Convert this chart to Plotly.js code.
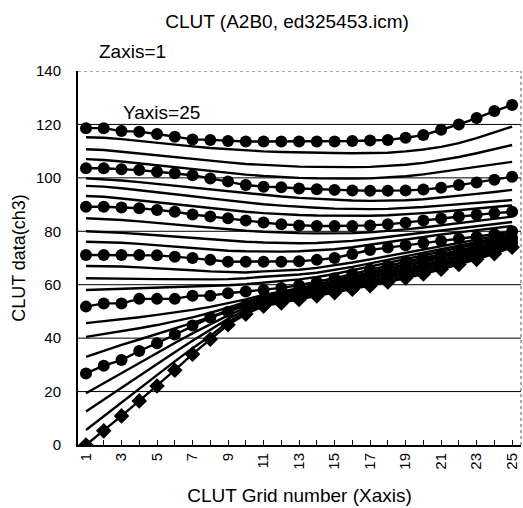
<!DOCTYPE html>
<html><head><meta charset="utf-8">
<script src="https://cdn.plot.ly/plotly-3.0.1.min.js"></script>
<style>html,body{margin:0;padding:0;background:#fff}#chart{width:523px;height:508px}</style>
</head><body><div id="chart"></div>
<script>
const gridX = [1,2,3,4,5,6,7,8,9,10,11,12,13,14,15,16,17,18,19,20,21,22,23,24,25];
const xTickLabels = ["1","","3","","5","","7","","9","","11","","13","","15","","17","","19","","21","","23","","25"];
const yTicks = [0,20,40,60,80,100,120,140];

const y01 = [0,5.3,10.9,16.5,22.1,28,34,39.6,45,49,52,53.2,54.5,55.8,57,58.3,59.6,61,62.5,64,65.8,67.6,69.5,71.6,74];
const y02 = [5.6,10.8,16,21.2,26.3,31.3,36.2,40.8,46,49.8,52.6,53.8,55.1,56.4,57.7,59,60.4,61.8,63.3,64.8,66.5,68.3,70.2,72.2,74.5];
const y03 = [12.5,17,21.5,26,30.4,34.7,39,43,47.2,50.6,53.2,54.4,55.7,57,58.3,59.7,61.1,62.6,64.1,65.6,67.2,69,70.8,72.8,75];
const y04 = [19.4,23.2,27,30.8,34.5,38.2,41.8,45.2,48.5,51.4,53.8,55,56.3,57.6,59,60.4,61.8,63.3,64.8,66.3,67.9,69.6,71.4,73.3,75.4];
const y05 = [26.8,29.7,31.8,35.2,38.1,41.4,44.7,47.7,49.9,52.2,54.4,55.6,56.9,58.3,59.7,61.1,62.6,64,65.5,67,68.6,70.3,72,73.8,75.8];
const y06 = [33,35.3,37.5,39.5,41.5,43.6,45.7,47.9,50.6,53,55,56.2,57.5,58.9,60.3,61.8,63.3,64.8,66.2,67.7,69.2,70.9,72.5,74.3,76.2];
const y07 = [40.5,41.5,42.5,43.7,44.9,46.3,47.8,49.5,51.4,53.6,55.6,56.8,58.1,59.5,61,62.5,64,65.5,67,68.4,69.9,71.5,73.1,74.8,76.6];
const y08 = [45.6,46.3,47,47.8,48.7,49.6,50.6,51.7,53,54.5,56.2,57.4,58.7,60.1,61.6,63.2,64.8,66.3,67.8,69.2,70.6,72.1,73.6,75.3,77];
const y09 = [51.8,53,53,54.7,54.7,54.7,55.9,55.9,56.8,57.5,58,58.8,59.8,61,62.4,64,65.6,67.1,68.6,70,71.4,72.8,74.3,75.9,77.5];
const y10 = [58,58.2,58.4,58.6,58.8,59,59.2,59.5,59.8,60.2,60.8,61.3,62,62.9,64,65.4,66.8,68.2,69.6,71,72.3,73.6,75,76.5,78];
const y11 = [62.4,62.4,62.3,62.2,62.1,62,62,62,62.1,62.4,63,63.3,63.8,64.5,65.5,66.7,68,69.3,70.6,71.9,73.2,74.5,75.8,77.2,78.6];
const y12 = [67,67,66.8,66.5,66.2,65.8,65.4,65,64.7,64.6,65,65.2,65.6,66.3,67.2,68.3,69.5,70.7,71.9,73.1,74.4,75.6,76.8,78,79.3];
const y13 = [71.1,71.1,71.1,71.1,71,70.5,70,69.3,68.6,68.6,68.6,68.6,68.8,69.3,70,71.5,73,73.9,74.8,75.6,76.4,77.2,78,78.9,80];
const y14 = [76.1,76,75.7,75.3,74.8,74.2,73.6,73.1,72.7,72.5,72.4,72.4,72.5,72.8,73.3,74,75,76,77,77.9,78.8,79.6,80.4,81.2,82];
const y15 = [80,79.8,79.4,79,78.5,78,77.5,77,76.5,76.1,75.8,75.6,75.5,75.6,75.9,76.4,77.1,77.9,78.7,79.5,80.3,81.1,81.9,82.7,83.5];
const y16 = [84.9,84.6,84.2,83.7,83.1,82.5,81.9,81.3,80.7,80.2,79.8,79.5,79.3,79.2,79.2,79.3,79.6,80.1,80.7,81.4,82.2,83,83.8,84.7,85.5];
const y17 = [89.2,89.2,88.9,88.6,88,87.3,86.3,85.5,84.9,84,83.3,82.6,82.2,82,82,82,82.2,82.6,83.2,84,84.8,85.5,86.2,86.8,87.3];
const y18 = [93.2,92.9,92.3,91.6,90.9,90.1,89.3,88.6,87.9,87.3,86.8,86.4,86.1,85.9,85.8,85.7,85.8,86,86.3,86.8,87.3,87.9,88.5,89.1,89.7];
const y19 = [97,96.7,96.1,95.4,94.7,93.9,93.1,92.3,91.5,90.8,90.1,89.6,89.1,88.8,88.5,88.3,88.3,88.4,88.7,89.1,89.6,90.1,90.6,91.1,91.7];
const y20 = [99.8,99.5,99,98.4,97.7,97,96.3,95.6,94.9,94.2,93.6,93,92.5,92.1,91.8,91.5,91.4,91.4,91.6,92,92.6,93.3,94,94.7,95.5];
const y21 = [103.6,103.6,103.2,102.9,102.3,101.7,101,99.8,98.6,97.3,96.7,96.5,96,95.7,95.5,95.3,95.2,95.2,95.3,95.6,96.3,97.3,98.3,99.3,100.4];
const y22 = [107,106.7,106.1,105.4,104.6,103.8,103.1,102.4,101.8,101.2,100.7,100.3,100,99.8,99.7,99.7,99.8,100.1,100.6,101.3,102.2,103.1,104,105,106];
const y23 = [110.7,110.4,109.8,109.1,108.4,107.7,107,106.4,105.8,105.2,104.8,104.5,104.2,104.1,104,104,104.1,104.4,104.9,105.6,106.6,107.8,109.2,110.7,112.3];
const y24 = [115.2,115,114.5,113.8,113,112.4,111.8,111.2,110.7,110.2,109.9,109.7,109.5,109.4,109.3,109.2,109.2,109.4,109.9,110.6,111.6,113,114.9,117,119.2];
const y25 = [118.6,118.6,117.5,117.3,116.4,115.4,114.4,114.2,113.8,113.6,113.6,113.6,113.6,113.6,113.6,113.8,114,114.2,115,116,118,120,122.4,125,127.3];

const series = [y01,y02,y03,y04,y05,y06,y07,y08,y09,y10,y11,y12,y13,y14,y15,y16,y17,y18,y19,y20,y21,y22,y23,y24,y25];

const FONT = 'Liberation Sans, Arial, Helvetica, sans-serif';

const traces = series.map(function(ys, i){
  const idx = i + 1;
  const t = {x: gridX, y: ys, type: 'scatter', mode: 'lines', name: 'Yaxis=' + idx,
             line: {color: '#000', width: 2.4}, showlegend: false, hoverinfo: 'skip'};
  if (idx === 1) {
    t.mode = 'lines+markers';
    t.marker = {symbol: 'diamond', size: 12, color: '#000'};
  } else if (idx % 4 === 1) {
    t.mode = 'lines+markers';
    t.marker = {symbol: 'circle', size: 12, color: '#000'};
  }
  return t;
});

const shapes = yTicks.filter(function(v){return v > 0 && v < 140;}).map(function(v){
  return {type: 'line', xref: 'paper', yref: 'y', x0: 0, x1: 1, y0: v, y1: v,
          line: {color: '#000', width: 1}, layer: 'below'};
});
shapes.push({type: 'line', xref: 'paper', yref: 'y', x0: 0, x1: 1, y0: 140, y1: 140,
             line: {color: '#555', width: 1, dash: 'dot'}});
shapes.push({type: 'line', xref: 'paper', yref: 'paper', x0: 1, x1: 1, y0: 0, y1: 1,
             line: {color: '#555', width: 1, dash: 'dot'}});

const layout = {
  width: 523, height: 508,
  margin: {l: 78, r: 2, t: 71, b: 63},
  paper_bgcolor: '#fff', plot_bgcolor: '#fff',
  font: {family: FONT, color: '#000', size: 15},
  title: {text: 'CLUT (A2B0, ed325453.icm)', font: {family: FONT, size: 19, color: '#000'},
          x: 0.549, xanchor: 'center', y: 0.957, yanchor: 'middle'},
  xaxis: {
    range: [0.55, 25.5], tickmode: 'array', tickvals: gridX, ticktext: xTickLabels,
    tickangle: -90, ticks: 'inside', ticklen: 5, tickwidth: 1, tickcolor: '#000',
    showline: true, linecolor: '#000', linewidth: 2, showgrid: false, zeroline: false,
    tickfont: {family: FONT, size: 15, color: '#000'},
    title: {text: 'CLUT Grid number (Xaxis)', font: {family: FONT, size: 19, color: '#000'}, standoff: 20}
  },
  yaxis: {
    range: [0, 140], tickmode: 'array', tickvals: yTicks,
    ticks: '', showline: true, linecolor: '#000', linewidth: 2, showgrid: false, zeroline: false,
    ticklabelstandoff: 12,
    tickfont: {family: FONT, size: 15, color: '#000'},
    title: {text: 'CLUT data(ch3)', font: {family: FONT, size: 18, color: '#000'}, standoff: 6}
  },
  shapes: shapes,
  annotations: [
    {text: 'Zaxis=1', xref: 'paper', yref: 'paper', x: 0.043, y: 1.051, xanchor: 'left', yanchor: 'middle',
     showarrow: false, font: {family: FONT, size: 19, color: '#000'}},
    {text: 'Yaxis=25', xref: 'x', yref: 'y', x: 2.97, y: 124.3, xanchor: 'left', yanchor: 'middle',
     showarrow: false, font: {family: FONT, size: 19, color: '#000'}}
  ]
};

Plotly.newPlot('chart', traces, layout, {displayModeBar: false, staticPlot: true});
</script>
</body></html>
